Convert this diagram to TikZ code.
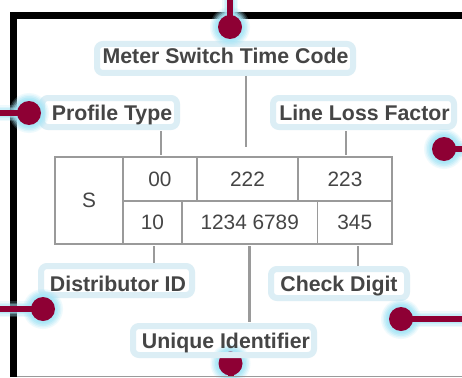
\documentclass[tikz,border=0pt]{standalone}
\usepackage{fontspec}
\setmainfont{Liberation Sans}
\definecolor{halo}{HTML}{DCEEF5}
\definecolor{glow}{HTML}{A8E6F7}
\definecolor{berry}{HTML}{8E0034}
\definecolor{rule}{HTML}{9A9A9A}
\definecolor{ink}{HTML}{454545}
\tikzset{
  labelbox/.style={draw=halo,line width=6pt,fill=white,rounded corners=6pt,inner sep=0pt,outer sep=0pt,
    minimum height=29pt,text depth=0pt,text height=15pt,text=ink,font=\fontsize{21.3}{21.3}\selectfont\bfseries},
  cellbox/.style={draw=rule,line width=1.6pt,inner sep=0pt,outer sep=0pt,text=ink,font=\fontsize{20.8}{20.8}\selectfont},
  tie/.style={draw=rule,line width=2.2pt},
  pinline/.style={draw=berry,line width=6pt},
  pindot/.style={circle,fill=berry,minimum size=24pt,inner sep=0pt,outer sep=0pt},
  frameline/.style={draw=black,line width=7pt}
}
\newcommand{\glowpin}[2]{%
  \foreach \w/\o in {16/0.18,13/0.25,10/0.35,7/0.5,4/0.7}{
    \draw[glow,line width=\w pt,opacity=\o,line cap=round] (#1) -- (#2);
    \fill[glow,opacity=\o] (#1) circle[radius=12pt+\w pt/2];
  }
  \draw[pinline] (#1) -- (#2);
}
\begin{document}
\begin{tikzpicture}[x=1pt,y=-1pt]
\useasboundingbox (0,0) rectangle (462,377);
\clip (0,0) rectangle (462,377);
\fill[white] (0,0) rectangle (462,377);
% frame
\coordinate (fa) at (13.5,377);
\coordinate (fb) at (13.5,15.5);
\coordinate (fc) at (462,15.5);
\coordinate (fd) at (17,376.5);
\coordinate (fe) at (462,376.5);
\draw[frameline] (fa) -- (fb) -- (fc);
% table cells
\node[cellbox,minimum width=68pt,minimum height=87pt] (s) at (89,200.5) {S};
\node[cellbox,minimum width=74pt,minimum height=44pt] (c00) at (160,179) {00};
\node[cellbox,minimum width=101pt,minimum height=44pt] (c222) at (247.5,179) {222};
\node[cellbox,minimum width=94pt,minimum height=44pt] (c223) at (345,179) {223};
\node[cellbox,minimum width=59pt,minimum height=43pt] (c10) at (152.5,222.5) {10};
\node[cellbox,minimum width=135.5pt,minimum height=43pt] (c1234) at (249.75,222.5) {1234 6789};
\node[cellbox,minimum width=74.5pt,minimum height=43pt] (c345) at (354.75,222.5) {345};
% bottom pin sits under the Unique Identifier label
\coordinate (p6) at (230.5,363.5); \coordinate (e6) at (230.5,377);
\glowpin{p6}{e6}
\node[pindot] (d6) at (p6) {};
\draw[draw=rule,line width=1pt] (fd) -- (fe);
% labels
\node[labelbox,minimum width=256pt,text height=11pt] (meter) at (225,58.5) {\kern1pt Meter Switch Time Code};
\node[labelbox,minimum width=135pt] (profile) at (109.5,112.5) {\kern5pt Profile Type};
\node[labelbox,minimum width=181pt] (loss) at (363.5,112.5) {\kern2pt Line Loss Factor};
\node[labelbox,minimum width=151pt,text height=21pt] (dist) at (116.5,280.5) {\kern3pt Distributor ID};
\node[labelbox,minimum width=181pt,fill=none] (unique) at (223.5,340.5) {\kern5pt Unique Identifier};
\node[labelbox,minimum width=136pt] (check) at (339,283.5) {Check Digit};
% connectors
\coordinate (t1) at (246,147);
\coordinate (t2) at (161,155);
\coordinate (t3) at (346,155);
\coordinate (t4) at (154,263);
\coordinate (t5) at (249.5,322);
\coordinate (t6) at (358,266);
\draw[tie] (meter.south -| t1) ++(0,3) -- (t1);
\draw[tie] (profile.south -| t2) ++(0,4) -- (t2);
\draw[tie] (loss.south -| t3) ++(0,4) -- (t3);
\draw[tie] (c10.south -| t4) ++(0,2) -- (t4);
\draw[tie] (c1234.south -| t5) ++(0,2) -- (t5);
\draw[tie] (c345.south -| t6) ++(0,2) -- (t6);
% pins
\coordinate (p1) at (230,27);  \coordinate (e1) at (230,0);
\coordinate (p2) at (29,113);  \coordinate (e2) at (0,113);
\coordinate (p3) at (444,149); \coordinate (e3) at (462,149);
\coordinate (p4) at (43,309);  \coordinate (e4) at (0,309);
\coordinate (p5) at (401,319); \coordinate (e5) at (462,319);
\glowpin{p1}{e1}\glowpin{p2}{e2}\glowpin{p3}{e3}\glowpin{p4}{e4}\glowpin{p5}{e5}
\node[pindot] (d1) at (p1) {};
\node[pindot] (d2) at (p2) {};
\node[pindot] (d3) at (p3) {};
\node[pindot] (d4) at (p4) {};
\node[pindot] (d5) at (p5) {};
\end{tikzpicture}
\end{document}
